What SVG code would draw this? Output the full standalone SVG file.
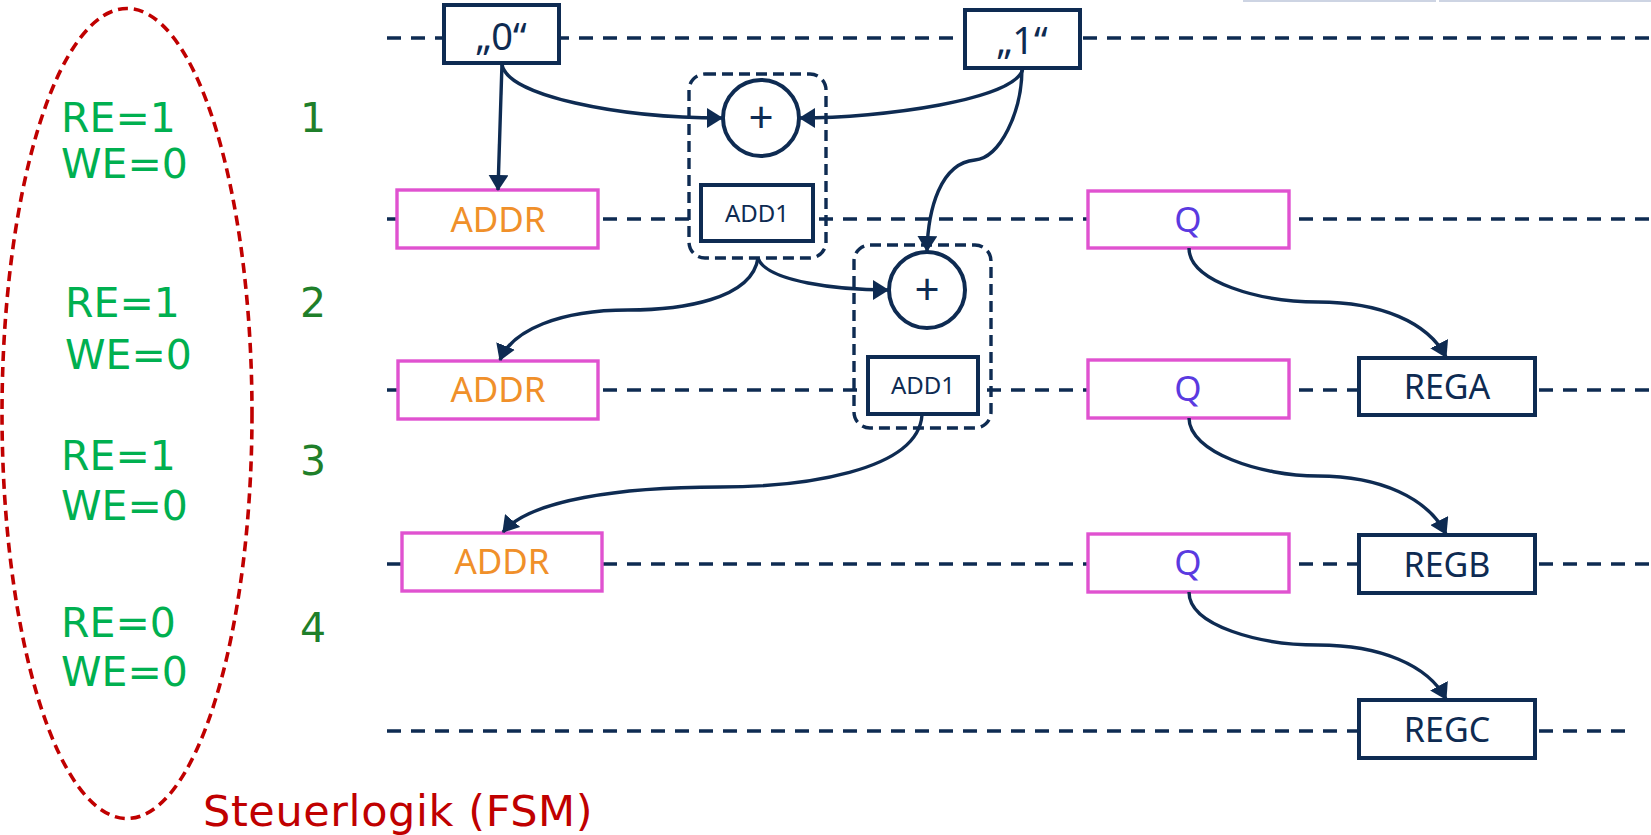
<svg xmlns="http://www.w3.org/2000/svg" width="1651" height="835" viewBox="0 0 1651 835">
<defs>
<style>
.lane{stroke:#0e2b52;stroke-width:3.6;stroke-dasharray:14 10;fill:none}
.nb{fill:#fff;stroke:#0e2b52;stroke-width:4}
.mb{fill:#fff;stroke:#e052d0;stroke-width:3.4}
.grp{fill:none;stroke:#0e2b52;stroke-width:3.4;stroke-dasharray:11 6}
.con{fill:none;stroke:#0e2b52;stroke-width:3.4;marker-end:url(#ah)}
.lbl{font-family:"Noto Sans","Open Sans",sans-serif;text-anchor:middle}
.nv{fill:#0e2b52}
.or{fill:#f0902a}
.pu{fill:#5a3ae0}
.st{font-family:"DejaVu Sans",Verdana,sans-serif;font-size:41px;fill:#00b050}
.num{font-family:"DejaVu Sans",Verdana,sans-serif;font-size:41px;fill:#1f7f2a}
</style>
<marker id="ah" viewBox="0 0 16 20" refX="15" refY="10" markerWidth="16" markerHeight="20" orient="auto" markerUnits="userSpaceOnUse">
<path d="M0,0 L16,10 L0,20 z" fill="#0e2b52"/>
</marker>
</defs>
<rect x="1243" y="0" width="193" height="2" fill="#cdd4e3"/>
<rect x="1439" y="0" width="212" height="2" fill="#cdd4e3"/>
<g id="lanes">
<line class="lane" x1="387" y1="38" x2="1651" y2="38"/>
<line class="lane" x1="387" y1="219" x2="1651" y2="219"/>
<line class="lane" x1="387" y1="390" x2="1651" y2="390"/>
<line class="lane" x1="387" y1="564" x2="1651" y2="564"/>
<line class="lane" x1="387" y1="731" x2="1634" y2="731"/>
</g>
<g id="fsm">
<ellipse cx="127" cy="413.5" rx="125" ry="405" fill="none" stroke="#c00000" stroke-width="3.6" stroke-dasharray="10 6"/>
<text class="st" x="61" y="132">RE=1</text>
<text class="st" x="61" y="178">WE=0</text>
<text class="st" x="65" y="317">RE=1</text>
<text class="st" x="65" y="369">WE=0</text>
<text class="st" x="61" y="470">RE=1</text>
<text class="st" x="61" y="520">WE=0</text>
<text class="st" x="61" y="637">RE=0</text>
<text class="st" x="61" y="686">WE=0</text>
<text x="203" y="826" font-family="DejaVu Sans,Verdana,sans-serif" font-size="43" letter-spacing="0.6" fill="#c00000">Steuerlogik (FSM)</text>
</g>
<g id="steps">
<text class="num" x="300" y="132">1</text>
<text class="num" x="300" y="317">2</text>
<text class="num" x="300" y="475">3</text>
<text class="num" x="300" y="642">4</text>
</g>
<g id="group1"><rect class="grp" x="689" y="74" width="137" height="184" rx="16"/></g>
<g id="group2"><rect class="grp" x="854" y="245" width="137" height="183" rx="16"/></g>
<g id="const0"><rect class="nb" x="444" y="5" width="115" height="58"/><text class="lbl nv" x="501" y="50" font-size="38">„0“</text></g>
<g id="const1"><rect class="nb" x="965" y="10" width="115" height="58"/><text class="lbl nv" x="1022" y="54" font-size="38">„1“</text></g>
<g id="add1a"><circle class="nb" cx="761" cy="118" r="38" stroke-width="3.4"/><text class="lbl nv" x="761" y="133" font-size="44">+</text></g>
<g id="add1box1"><rect class="nb" x="701" y="185" width="112" height="56"/><text class="lbl nv" x="757" y="222" font-size="24">ADD1</text></g>
<g id="add2a"><circle class="nb" cx="927" cy="290" r="38" stroke-width="3.4"/><text class="lbl nv" x="927" y="305" font-size="44">+</text></g>
<g id="add1box2"><rect class="nb" x="868" y="357" width="110" height="57"/><text class="lbl nv" x="923" y="394" font-size="24">ADD1</text></g>
<g id="addr1"><rect class="mb" x="397" y="190" width="201" height="58"/><text class="lbl or" x="498" y="232" font-size="35">ADDR</text></g>
<g id="addr2"><rect class="mb" x="398" y="361" width="200" height="58"/><text class="lbl or" x="498" y="402" font-size="35">ADDR</text></g>
<g id="addr3"><rect class="mb" x="402" y="533" width="200" height="58"/><text class="lbl or" x="502" y="574" font-size="35">ADDR</text></g>
<g id="q1"><rect class="mb" x="1088" y="191" width="201" height="57"/><text class="lbl pu" x="1188" y="232" font-size="35">Q</text></g>
<g id="q2"><rect class="mb" x="1088" y="360" width="201" height="58"/><text class="lbl pu" x="1188" y="401" font-size="35">Q</text></g>
<g id="q3"><rect class="mb" x="1088" y="534" width="201" height="58"/><text class="lbl pu" x="1188" y="575" font-size="35">Q</text></g>
<g id="rega"><rect class="nb" x="1359" y="358" width="176" height="57"/><text class="lbl nv" x="1447" y="399" font-size="34">REGA</text></g>
<g id="regb"><rect class="nb" x="1359" y="535" width="176" height="58"/><text class="lbl nv" x="1447" y="577" font-size="34">REGB</text></g>
<g id="regc"><rect class="nb" x="1359" y="700" width="176" height="58"/><text class="lbl nv" x="1447" y="742" font-size="34">REGC</text></g>
<g id="connectors">
<path class="con" d="M502,63 L498,190"/>
<path class="con" d="M502,64 C506,96 620,118 722,118"/>
<path class="con" d="M1023,68 C1018,100 880,118 800,118"/>
<path class="con" d="M1022,68 C1022,112 1000,158 975,160 C940,163 928,210 927,251"/>
<path class="con" d="M758,258 C766,282 840,290 888,290"/>
<path class="con" d="M758,258 C752,300 680,310 628,310 C560,310 512,330 500,360"/>
<path class="con" d="M922,415 C918,472 800,487 720,487 C620,487 530,500 503,532"/>
<path class="con" d="M1189,248 C1189,282 1260,302 1318,302 C1380,302 1428,322 1446,357"/>
<path class="con" d="M1189,418 C1189,452 1260,476 1318,476 C1380,476 1428,498 1446,534"/>
<path class="con" d="M1189,592 C1189,626 1260,645 1318,645 C1380,645 1428,665 1446,699"/>
</g>
</svg>
